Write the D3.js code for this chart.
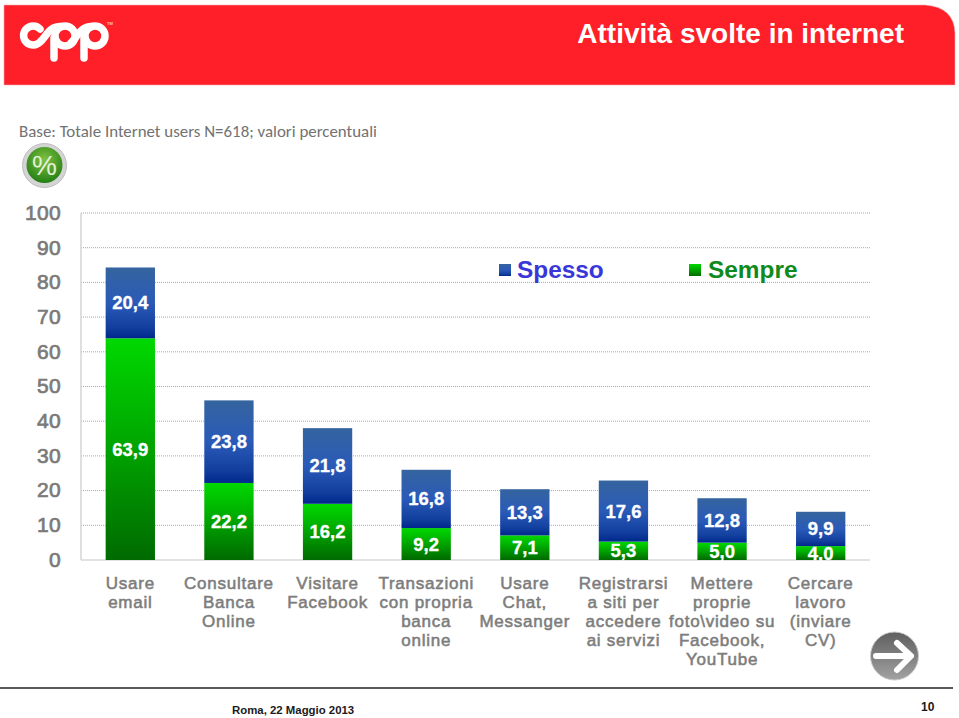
<!DOCTYPE html>
<html><head><meta charset="utf-8">
<style>html,body{margin:0;padding:0;background:#fff}svg{display:block}</style>
<script src="https://cdn.jsdelivr.net/npm/d3@7/dist/d3.min.js"></script>
</head><body>
<svg id="c" width="959" height="718"></svg>
<script>
const categories = [
  ["Usare","email"],
  ["Consultare","Banca","Online"],
  ["Visitare","Facebook"],
  ["Transazioni","con propria","banca","online"],
  ["Usare","Chat,","Messanger"],
  ["Registrarsi","a siti per","accedere","ai servizi"],
  ["Mettere","proprie","foto\\video su","Facebook,","YouTube"],
  ["Cercare","lavoro","(inviare","CV)"]
];
const sempre = [63.9, 22.2, 16.2, 9.2, 7.1, 5.3, 5.0, 4.0];
const spesso = [20.4, 23.8, 21.8, 16.8, 13.3, 17.6, 12.8, 9.9];
const sempreLabels = ["63,9","22,2","16,2","9,2","7,1","5,3","5,0","4,0"];
const spessoLabels = ["20,4","23,8","21,8","16,8","13,3","17,6","12,8","9,9"];
const yTicks = [0,10,20,30,40,50,60,70,80,90,100];

const svg = d3.select("#c");
const defs = svg.append("defs");
function grad(id, stops){
  const g = defs.append("linearGradient").attr("id",id).attr("x1",0).attr("y1",0).attr("x2",0).attr("y2",1);
  stops.forEach(s=>g.append("stop").attr("offset",s[0]).attr("stop-color",s[1]));
}
grad("gBlue",[[0,"#35649f"],[0.5,"#2a5ab8"],[0.85,"#123f9e"],[1,"#00278c"]]);
grad("gGreen",[[0,"#00d800"],[0.35,"#00b400"],[1,"#006a00"]]);
const radial = defs.append("radialGradient").attr("id","gPct").attr("cx","0.5").attr("cy","0.35").attr("r","0.7");
radial.append("stop").attr("offset",0).attr("stop-color","#7fc241");
radial.append("stop").attr("offset",1).attr("stop-color","#1d7a12");
const arrowG = defs.append("linearGradient").attr("id","gArrow").attr("x1",0).attr("y1",0).attr("x2",0).attr("y2",1);
arrowG.append("stop").attr("offset",0).attr("stop-color","#5f5f5f");
arrowG.append("stop").attr("offset",1).attr("stop-color","#a2a2a2");

// header
svg.append("path").attr("fill","#fe1f28").attr("stroke","#f4a9ab").attr("stroke-width",0.6)
  .attr("d","M4 5 H925 Q954 7 955 33 V85 H4 Z");
svg.append("text").attr("x",904).attr("y",43).attr("text-anchor","end")
  .attr("font-family","Liberation Sans").attr("font-weight","bold").attr("font-size",28)
  .attr("fill","#fff").text("Attività svolte in internet");

// logo
const logo = svg.append("g").attr("fill","none").attr("stroke","#fff").attr("stroke-width",7.5).attr("stroke-linecap","round");
logo.append("path").attr("d","M40 29 A9.5 9.5 0 1 0 40 42 C46 37 49 26 61 26.5");
logo.append("circle").attr("cx",65).attr("cy",36).attr("r",10);
logo.append("path").attr("d","M54 38 V58");
logo.append("path").attr("d","M71 43 C77 37 81 26 92 26.5");
logo.append("circle").attr("cx",95).attr("cy",36).attr("r",10);
logo.append("path").attr("d","M84 38 V58");
svg.append("text").attr("x",107).attr("y",25).attr("font-size",4).attr("font-family","Liberation Sans").attr("fill","#fff").text("TM");

// subtitle
svg.append("text").attr("x",19).attr("y",137).attr("font-family","Carlito, Lato").attr("font-size",16.9)
  .attr("fill","#727272").text("Base: Totale Internet users N=618; valori percentuali");

// % icon
svg.append("circle").attr("cx",44.5).attr("cy",165.5).attr("r",22).attr("fill","#d4d4d4").attr("stroke","#bdbdbd");
svg.append("circle").attr("cx",44.5).attr("cy",165).attr("r",18).attr("fill","url(#gPct)");
svg.append("text").attr("x",44.5).attr("y",175).attr("text-anchor","middle").attr("font-family","Liberation Sans")
  .attr("font-size",28).attr("fill","#e4f1d8").text("%");

// chart
const x = d3.scaleBand().domain(d3.range(categories.length)).range([81,870]).paddingInner(0.5).paddingOuter(0.25);
const y = d3.scaleLinear().domain([0,100]).range([560,213]);

svg.append("g").selectAll("line").data(yTicks.filter(d=>d>0)).join("line")
  .attr("x1",81).attr("x2",870).attr("y1",d=>y(d)).attr("y2",d=>y(d))
  .attr("stroke","#a8a8a8").attr("stroke-width",1).attr("stroke-dasharray","1 1");
svg.append("line").attr("x1",81).attr("x2",81).attr("y1",213).attr("y2",560).attr("stroke","#d4d4d4").attr("stroke-width",1.5);
svg.append("line").attr("x1",81).attr("x2",870).attr("y1",560).attr("y2",560).attr("stroke","#d8d8d8").attr("stroke-width",1.5);

const axisFont = "Liberation Sans";
svg.append("g").selectAll("text").data(yTicks).join("text")
  .attr("x",61).attr("y",d=>y(d)+6.8).attr("text-anchor","end")
  .attr("font-family",axisFont).attr("font-size",21).attr("letter-spacing",0.3)
  .attr("stroke","#7a7a7a").attr("stroke-width",0.7)
  .attr("fill","#7a7a7a").text(d=>d);

const groups = svg.append("g").selectAll("g").data(categories).join("g");
groups.append("rect").attr("x",(d,i)=>x(i)).attr("width",x.bandwidth())
  .attr("y",(d,i)=>y(sempre[i])).attr("height",(d,i)=>y(0)-y(sempre[i])).attr("fill","url(#gGreen)");
groups.append("rect").attr("x",(d,i)=>x(i)).attr("width",x.bandwidth())
  .attr("y",(d,i)=>y(sempre[i]+spesso[i])).attr("height",(d,i)=>y(0)-y(spesso[i])).attr("fill","url(#gBlue)");

function valueLabel(sel, getY, getT){
  sel.append("text").attr("x",(d,i)=>x(i)+x.bandwidth()/2).attr("y",getY).attr("text-anchor","middle")
    .attr("font-family",axisFont).attr("font-weight","bold").attr("font-size",18.5)
    .attr("stroke","#fff").attr("stroke-width",0.3)
    .attr("fill","#fff").text(getT);
}
valueLabel(groups,(d,i)=>y(sempre[i]/2)+6.5,(d,i)=>sempreLabels[i]);
valueLabel(groups,(d,i)=>y(sempre[i]+spesso[i]/2)+6.5,(d,i)=>spessoLabels[i]);

groups.each(function(d,i){
  const g = d3.select(this);
  d.forEach((line,k)=>{
    g.append("text").attr("x",x(i)+x.bandwidth()/2).attr("y",589+k*19)
      .attr("text-anchor","middle").attr("font-family",axisFont)
      .attr("font-size",17).attr("letter-spacing",0.75).attr("stroke","#7d7d7d").attr("stroke-width",0.55)
      .attr("fill","#7d7d7d").text(line);
  });
});

// legend
svg.append("rect").attr("x",499).attr("y",264).attr("width",12).attr("height",12).attr("fill","url(#gBlue)");
svg.append("text").attr("x",517).attr("y",278).attr("font-family",axisFont).attr("font-weight","bold")
  .attr("font-size",24.4).attr("fill","#3a37d8").text("Spesso");
svg.append("rect").attr("x",689).attr("y",264).attr("width",12).attr("height",12).attr("fill","url(#gGreen)");
svg.append("text").attr("x",708).attr("y",278).attr("font-family",axisFont).attr("font-weight","bold")
  .attr("font-size",24.4).attr("fill","#0f8a1c").text("Sempre");

// arrow
svg.append("circle").attr("cx",894.5).attr("cy",656).attr("r",24).attr("fill","url(#gArrow)").attr("stroke","#c9c9c9");
svg.append("path").attr("fill","none").attr("stroke","#fff").attr("stroke-width",6).attr("stroke-linecap","round").attr("stroke-linejoin","round")
  .attr("d","M876 656 H910 M897 643 L911 656 L897 670");

// footer
svg.append("line").attr("x1",0).attr("x2",953).attr("y1",688).attr("y2",688).attr("stroke","#222").attr("stroke-width",1.3);
svg.append("text").attr("x",232).attr("y",714).attr("font-family",axisFont).attr("font-weight","bold")
  .attr("font-size",11.4).attr("fill","#1a1a1a").text("Roma, 22 Maggio 2013");
svg.append("text").attr("x",921).attr("y",711).attr("font-family",axisFont).attr("font-weight","bold")
  .attr("font-size",12).attr("fill","#1a1a1a").text("10");
</script>
</body></html>
